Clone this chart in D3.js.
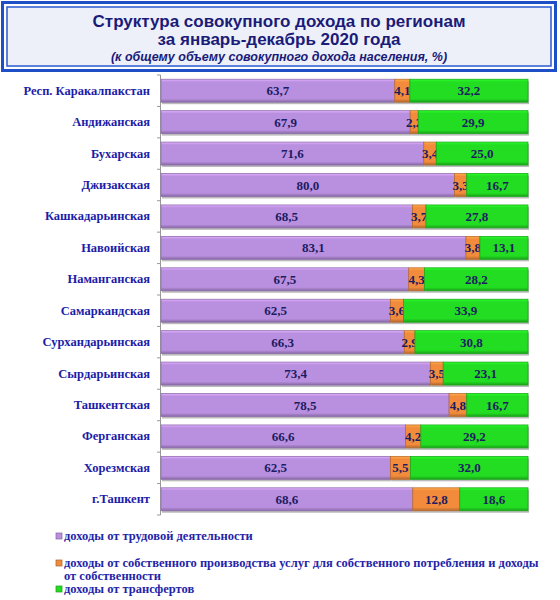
<!DOCTYPE html>
<html>
<head>
<meta charset="utf-8">
<script src="https://cdn.jsdelivr.net/npm/d3@7"></script>
<style>
  body { margin: 0; background: #fff; }
  .serif { font-family: "Liberation Serif", "DejaVu Serif", serif; font-weight: bold; }
  .sans { font-family: "Liberation Sans", Arial, sans-serif; font-weight: bold; }
</style>
</head>
<body>
<div id="chart"></div>
<script>
  const regions = ["Респ. Каракалпакстан", "Андижанская", "Бухарская", "Джизакская", "Кашкадарьинская",
    "Навоийская", "Наманганская", "Самаркандская", "Сурхандарьинская", "Сырдарьинская",
    "Ташкентская", "Ферганская", "Хорезмская", "г.Ташкент"];
  const labour = [63.7, 67.9, 71.6, 80.0, 68.5, 83.1, 67.5, 62.5, 66.3, 73.4, 78.5, 66.6, 62.5, 68.6];
  const ownProduction = [4.1, 2.2, 3.4, 3.3, 3.7, 3.8, 4.3, 3.6, 2.9, 3.5, 4.8, 4.2, 5.5, 12.8];
  const transfers = [32.2, 29.9, 25.0, 16.7, 27.8, 13.1, 28.2, 33.9, 30.8, 23.1, 16.7, 29.2, 32.0, 18.6];
  const seriesNames = [
    "доходы от трудовой деятельности",
    "доходы от собственного производства услуг для собственного потребления и доходы от собственности",
    "доходы от трансфертов"
  ];
  const seriesKeys = ["labour", "own", "transfers"];
  const colors = ["#b98fe0", "#f28c3c", "#22dd22"];

  const width = 560;
  const height = 600;
  const svg = d3.select("#chart").append("svg")
    .attr("width", width)
    .attr("height", height);

  // gradients for the bevelled bar look
  const defs = svg.append("defs");
  colors.forEach((c, i) => {
    const g = defs.append("linearGradient")
      .attr("id", "grad" + i)
      .attr("x1", 0).attr("y1", 0).attr("x2", 0).attr("y2", 1);
    g.append("stop").attr("offset", "0%").attr("stop-color", d3.color(c).brighter(0.6));
    g.append("stop").attr("offset", "12%").attr("stop-color", c);
    g.append("stop").attr("offset", "85%").attr("stop-color", c);
    g.append("stop").attr("offset", "100%").attr("stop-color", d3.color(c).darker(0.9));
  });

  // title box
  svg.append("rect")
    .attr("x", 2.5).attr("y", 2.5).attr("width", 553).attr("height", 68)
    .attr("fill", "#fff").attr("stroke", "#1f4fc6").attr("stroke-width", 3);
  svg.append("rect")
    .attr("x", 7).attr("y", 7).attr("width", 544).attr("height", 59)
    .attr("fill", "#edf0f8").attr("stroke", "#2a5ad0").attr("stroke-width", 1.5);
  const title = svg.append("g").attr("class", "sans")
    .attr("fill", "#1b1b78").attr("text-anchor", "middle");
  title.append("text").attr("x", 279).attr("y", 27).attr("font-size", 17)
    .text("Структура совокупного дохода по регионам");
  title.append("text").attr("x", 279).attr("y", 45).attr("font-size", 17)
    .text("за январь-декабрь 2020 года");
  title.append("text").attr("x", 279).attr("y", 61).attr("font-size", 12.5)
    .attr("font-style", "italic")
    .text("(к общему объему совокупного дохода населения, %)");

  const rows = regions.map((r, i) => ({
    region: r, labour: labour[i], own: ownProduction[i], transfers: transfers[i]
  }));
  const stacked = d3.stack().keys(seriesKeys)(rows);

  const x = d3.scaleLinear().domain([0, 100]).range([161, 528]);
  const y = d3.scaleBand().domain(regions).range([75, 515]).paddingInner(0.27).paddingOuter(0.135);

  // axis line with ticks between categories
  const axisG = svg.append("g");
  axisG.append("line")
    .attr("x1", 160.5).attr("x2", 160.5).attr("y1", 75).attr("y2", 515)
    .attr("stroke", "#999").attr("stroke-width", 1);
  const bounds = d3.range(regions.length + 1).map(i => 75 + i * y.step());
  axisG.selectAll(".tk").data(bounds).join("line")
    .attr("x1", 157).attr("x2", 160.5)
    .attr("y1", d => d).attr("y2", d => d)
    .attr("stroke", "#999");

  axisG.selectAll(".cat").data(regions).join("text")
    .attr("class", "serif")
    .attr("x", 150)
    .attr("y", d => y(d) + y.bandwidth() / 2 + 4)
    .attr("text-anchor", "end")
    .attr("font-size", 12.5)
    .attr("fill", "#1c1ca8")
    .text(d => d);

  const fmt = v => d3.format(".1f")(v).replace(".", ",");

  stacked.forEach((s, si) => {
    const g = svg.append("g");
    // shadow
    g.selectAll(".sh").data(s).join("rect")
      .attr("x", d => x(d[0]) + 1)
      .attr("y", d => y(d.data.region) + 2)
      .attr("width", d => x(d[1]) - x(d[0]))
      .attr("height", y.bandwidth())
      .attr("fill", "#bbb");
    g.selectAll(".bar").data(s).join("rect")
      .attr("x", d => x(d[0]))
      .attr("y", d => y(d.data.region))
      .attr("width", d => x(d[1]) - x(d[0]))
      .attr("height", y.bandwidth())
      .attr("fill", `url(#grad${si})`)
      .attr("stroke", d3.color(colors[si]).darker(0.7))
      .attr("stroke-width", 0.8);
    g.selectAll(".lbl").data(s).join("text")
      .attr("class", "serif")
      .attr("x", d => (x(d[0]) + x(d[1])) / 2)
      .attr("y", d => y(d.data.region) + y.bandwidth() / 2 + 4.5)
      .attr("text-anchor", "middle")
      .attr("font-size", 13)
      .attr("fill", "#1c1c60")
      .text(d => fmt(d[1] - d[0]));
  });

  // legend
  const legend = svg.append("g")
    .attr("class", "serif")
    .attr("font-size", 12.5)
    .attr("fill", "#2424a8");
  const legendY = [540, 567, 593];
  seriesNames.forEach((name, i) => {
    legend.append("rect")
      .attr("x", 56).attr("y", legendY[i] - 7).attr("width", 6).attr("height", 6)
      .attr("fill", colors[i]).attr("stroke", d3.color(colors[i]).darker(1)).attr("stroke-width", 0.7);
  });
  legend.append("text").attr("x", 64).attr("y", legendY[0]).text(seriesNames[0]);
  legend.append("text").attr("x", 64).attr("y", legendY[1])
    .text("доходы от собственного производства услуг для собственного потребления и доходы");
  legend.append("text").attr("x", 64).attr("y", legendY[1] + 13).text("от собственности");
  legend.append("text").attr("x", 64).attr("y", legendY[2]).text(seriesNames[2]);
</script>
</body>
</html>
